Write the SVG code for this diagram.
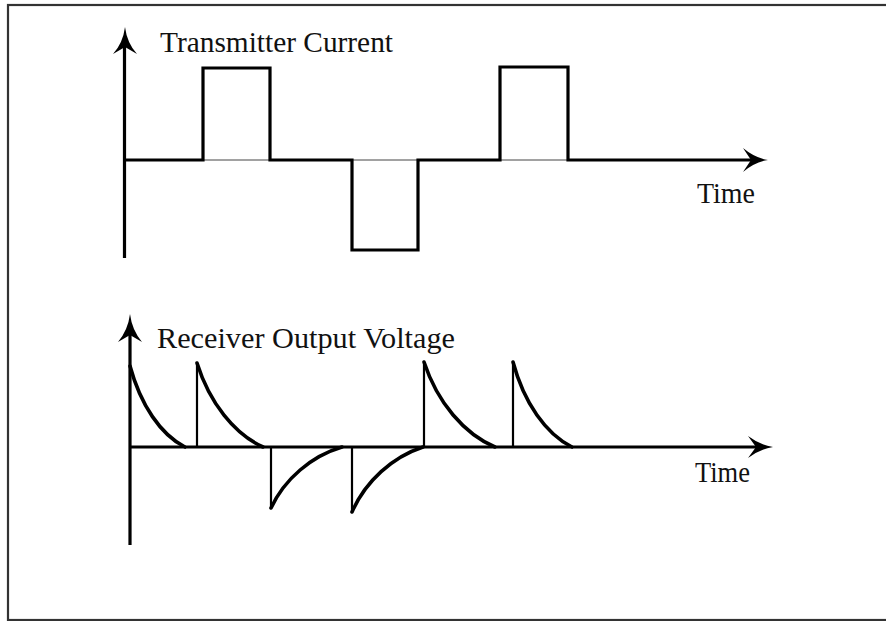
<svg xmlns="http://www.w3.org/2000/svg" width="886" height="621" viewBox="0 0 886 621">
  <style>
    .lbl { font-family: "Liberation Serif", "Times New Roman", serif; font-size: 29px; fill: #111; }
    .thick { fill: none; stroke: #000; stroke-width: 3.2; stroke-linejoin: miter; stroke-linecap: butt; }
    .thin { fill: none; stroke: #444; stroke-width: 1; }
    .spike { fill: none; stroke: #000; stroke-width: 2.2; }
    .decay { fill: none; stroke: #000; stroke-width: 3.6; stroke-linecap: round; }
    .head { fill: #000; stroke: none; }
  </style>
  <rect x="0" y="0" width="886" height="621" fill="#fff"/>
  <rect id="frame" x="8" y="5" width="890" height="615" fill="none" stroke="#333" stroke-width="2.2"/>

  <g id="transmitter-current">
    <line class="thick" x1="124.5" y1="40" x2="124.5" y2="258"/>
    <path class="head" d="M125,27 Q127,43 137,54 L125,47 L113,54 Q123,43 125,27 Z"/>
    <path class="thin" d="M203,160 H270 M352,160 H418 M500,160 H568"/>
    <path class="thick" d="M124,160 H203 V68 H270 V160 H352 V250 H418 V160 H500 V67 H568 V160 H752"/>
    <path class="head" d="M768,160 Q755,162 743,172 L751,160 L743,148 Q755,158 768,160 Z"/>
    <text class="lbl" x="160" y="52" textLength="233" lengthAdjust="spacingAndGlyphs">Transmitter Current</text>
    <text class="lbl" x="697" y="203" textLength="58" lengthAdjust="spacingAndGlyphs">Time</text>
  </g>

  <g id="receiver-output-voltage">
    <line class="thick" x1="130" y1="328" x2="130" y2="545"/>
    <path class="head" d="M130,314 Q132,330 142,342 L130,335 L118,342 Q128,330 130,314 Z"/>
    <path class="thick" d="M130,447 H757"/>
    <path class="head" d="M773,447 Q760,449 748,458 L756,447 L748,436 Q760,445 773,447 Z"/>
    <g id="spikes">
      <path class="spike" d="M197,447 V363 M424,447 V362 M513,447 V362 M271,447 V508 M352,447 V512"/>
      <path class="decay" d="M130,366 C140.5,405 161,435 185,447"/>
      <path class="decay" d="M197,363 C209.5,403 234.5,434 263,447"/>
      <path class="decay" d="M424,362 C437.5,403 464.5,434 495,447"/>
      <path class="decay" d="M513,362 C524,403 546,434 572,447"/>
      <path class="decay" d="M271,508 C284.5,479 311.5,456 342,447"/>
      <path class="decay" d="M352,512 C365.5,481 392.5,457 423,447"/>
    </g>
    <text class="lbl" x="157" y="348" textLength="298" lengthAdjust="spacingAndGlyphs">Receiver Output Voltage</text>
    <text class="lbl" x="695" y="482" textLength="55" lengthAdjust="spacingAndGlyphs">Time</text>
  </g>
</svg>
